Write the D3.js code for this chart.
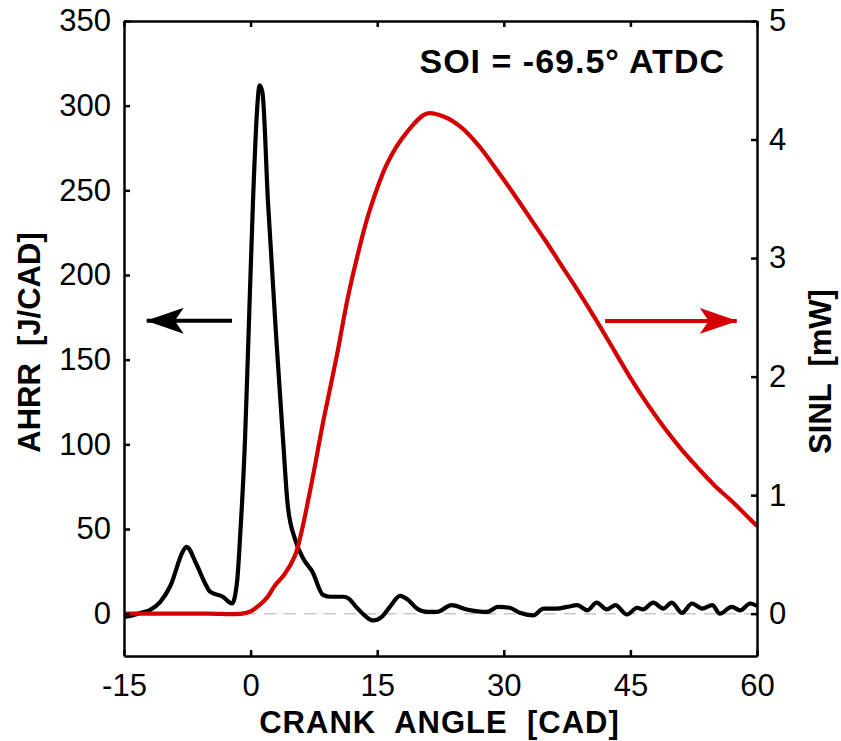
<!DOCTYPE html>
<html lang="en">
<head>
  <meta charset="UTF-8">
  <title>AHRR and SINL vs crank angle</title>
  <script src="https://d3js.org/d3.v7.min.js"></script>
  <style>
    body {
      margin: 0;
      background: #fff;
      font-family: "Liberation Sans", Arial, sans-serif;
    }
    .axis path, .axis line {
      stroke: #000;
      stroke-width: 2.5px;
    }
    .axis text {
      font-family: "Liberation Sans", Arial, sans-serif;
      font-size: 31px;
      fill: #000;
    }
    .label {
      font-weight: bold;
      font-size: 31px;
    }
    .line {
      fill: none;
      stroke-width: 4.2px;
      stroke-linejoin: round;
    }
  </style>
</head>
<body>
  <svg id="chart" width="841" height="741"></svg>

  <script>
    // crank angle [CAD] vs apparent heat release rate [J/CAD]
    const ahrrCad = [-15, -14, -13, -12, -10.7, -9.5, -8, -7.6, -6.4, -5.4, -4.8, -3.3, -2.2, -1.6, -1.26, -0.66, -0.3, 0.28, 0.8, 1.05, 1.4, 2.06, 3.13, 3.84, 4.4, 5.26, 6.3, 7.3, 8.6, 9.5, 11, 11.6, 12.5, 13.5, 14.5, 15.5, 16.5, 17.7, 18.7, 19.7, 20.9, 22.1, 23.8, 25.6, 28, 29.3, 30.7, 31.9, 33.5, 34.7, 36.3, 37.5, 38.7, 39.9, 41, 42.2, 43.2, 44.6, 45.8, 46.5, 47.7, 48.9, 49.9, 51.1, 52.3, 53.5, 54.7, 55.6, 57, 58, 59.2, 60];
    const ahrrVal = [-2, -1, 0.5, 2, 7, 16.5, 37, 39.5, 29, 18, 13, 10, 6, 19, 44, 103, 156, 243, 300, 312, 308, 243, 156, 103, 64, 44, 32, 25, 11, 10, 10, 9, 4, -1, -4, -2, 4, 10.5, 8, 3, 1, 1, 5, 2.5, 1, 4, 3.5, 0.5, -1, 3, 3, 4, 5, 2, 6.5, 2.5, 5, -0.5, 3.5, 2.5, 6.5, 3, 6.5, 0.5, 6, 3, 5, 0, 4, 2, 6, 4.5];

    // crank angle [CAD] vs spatially integrated natural luminosity [mW]
    const sinlCad = [-15, -10, -5, -1, 0, 1, 2, 2.9, 4, 5.26, 6, 6.8, 7.5, 8.6, 10.2, 11.5, 12.8, 14.1, 16.2, 18.5, 20.9, 23, 25, 27, 29, 31, 33, 35, 37, 39, 41, 43, 45, 47, 49, 51, 53, 55, 57, 59, 60];
    const sinlVal = [0, 0, 0, 0, 0.02, 0.07, 0.14, 0.24, 0.33, 0.49, 0.68, 0.95, 1.2, 1.62, 2.17, 2.66, 3.06, 3.40, 3.80, 4.06, 4.22, 4.19, 4.10, 3.95, 3.76, 3.56, 3.35, 3.14, 2.92, 2.70, 2.47, 2.23, 1.99, 1.77, 1.57, 1.39, 1.23, 1.08, 0.95, 0.81, 0.74];

    const xTicks = [-15, 0, 15, 30, 45, 60];
    const yLeftTicks = [0, 50, 100, 150, 200, 250, 300, 350];
    const yRightTicks = [0, 1, 2, 3, 4, 5];

    // arrows: [from CAD, to CAD, level on own axis]
    const leftArrow = [-2.2, -12.3, 173];
    const rightArrow = [42.0, 57.6, 2.47];

    const margin = {top: 21, right: 84, bottom: 85, left: 124};
    const width = 841 - margin.left - margin.right;
    const height = 741 - margin.top - margin.bottom;

    const svg = d3.select("#chart")
      .append("g")
      .attr("transform", `translate(${margin.left},${margin.top})`);

    const x = d3.scaleLinear().domain([-15, 60]).range([0, width]);
    const yL = d3.scaleLinear().domain([-25, 350]).range([height, 0]);
    const yR = d3.scaleLinear().domain([-25 / 70, 5]).range([height, 0]);

    const defs = svg.append("defs");
    defs.append("clipPath").attr("id", "clip")
      .append("rect").attr("width", width).attr("height", height);
    [["head-black", "#000"], ["head-red", "#d40000"]].forEach(([id, c]) => {
      defs.append("marker")
        .attr("id", id)
        .attr("viewBox", "0 -13 38 26")
        .attr("refX", 37)
        .attr("refY", 0)
        .attr("markerUnits", "userSpaceOnUse")
        .attr("markerWidth", 38)
        .attr("markerHeight", 26)
        .attr("orient", "auto")
        .append("path")
        .attr("d", "M0,-13 L38,0 L0,13 L9,0 Z")
        .attr("fill", c);
    });

    // zero reference line
    svg.append("line")
      .attr("x1", 0).attr("x2", width)
      .attr("y1", yL(0)).attr("y2", yL(0))
      .attr("stroke", "#c8c8c8")
      .attr("stroke-width", 1.5)
      .attr("stroke-dasharray", "12,8");

    const plot = svg.append("g").attr("clip-path", "url(#clip)");

    const ahrr = ahrrCad.map((c, i) => ({c, v: ahrrVal[i]}));
    const sinl = sinlCad.map((c, i) => ({c, v: sinlVal[i]}));

    plot.append("path")
      .datum(ahrr)
      .attr("class", "line")
      .attr("stroke", "#000")
      .attr("d", d3.line().x(d => x(d.c)).y(d => yL(d.v)).curve(d3.curveMonotoneX));

    plot.append("path")
      .datum(sinl)
      .attr("class", "line")
      .attr("stroke", "#d40000")
      .attr("d", d3.line().x(d => x(d.c)).y(d => yR(d.v)).curve(d3.curveCatmullRom.alpha(0.5)));

    // axes, ticks pointing inward
    const fmt = d => String(d);
    svg.append("g").attr("class", "axis")
      .attr("transform", `translate(0,${height})`)
      .call(d3.axisBottom(x).tickValues(xTicks).tickFormat(fmt).tickSizeInner(-6).tickSizeOuter(0).tickPadding(18));
    svg.append("g").attr("class", "axis")
      .call(d3.axisTop(x).tickValues(xTicks).tickFormat("").tickSizeInner(-6).tickSizeOuter(0));
    svg.append("g").attr("class", "axis")
      .call(d3.axisLeft(yL).tickValues(yLeftTicks).tickFormat(fmt).tickSizeInner(-6).tickSizeOuter(0).tickPadding(13));
    svg.append("g").attr("class", "axis")
      .attr("transform", `translate(${width},0)`)
      .call(d3.axisRight(yR).tickValues(yRightTicks).tickFormat(fmt).tickSizeInner(-6).tickSizeOuter(0).tickPadding(12));

    // arrows
    svg.append("line")
      .attr("x1", x(leftArrow[0])).attr("x2", x(leftArrow[1]))
      .attr("y1", yL(leftArrow[2])).attr("y2", yL(leftArrow[2]))
      .attr("stroke", "#000").attr("stroke-width", 4)
      .attr("marker-end", "url(#head-black)");
    svg.append("line")
      .attr("x1", x(rightArrow[0])).attr("x2", x(rightArrow[1]))
      .attr("y1", yR(rightArrow[2])).attr("y2", yR(rightArrow[2]))
      .attr("stroke", "#d40000").attr("stroke-width", 4)
      .attr("marker-end", "url(#head-red)");

    // text
    svg.append("text")
      .attr("class", "label")
      .attr("x", width - 32).attr("y", 52)
      .attr("text-anchor", "end")
      .style("font-size", "34px")
      .style("letter-spacing", "1px")
      .text("SOI = -69.5° ATDC");

    svg.append("text")
      .attr("class", "label")
      .attr("x", width / 2 - 1).attr("y", height + 77)
      .attr("text-anchor", "middle")
      .style("letter-spacing", "1px")
      .attr("xml:space", "preserve")
      .text("CRANK  ANGLE  [CAD]");

    svg.append("text")
      .attr("class", "label")
      .attr("transform", `translate(-84,${height / 2 + 4}) rotate(-90)`)
      .attr("text-anchor", "middle")
      .attr("xml:space", "preserve")
      .text("AHRR  [J/CAD]");

    svg.append("text")
      .attr("class", "label")
      .attr("transform", `translate(${width + 74},${height / 2 + 33}) rotate(-90)`)
      .attr("text-anchor", "middle")
      .attr("xml:space", "preserve")
      .text("SINL  [mW]");
  </script>
</body>
</html>
